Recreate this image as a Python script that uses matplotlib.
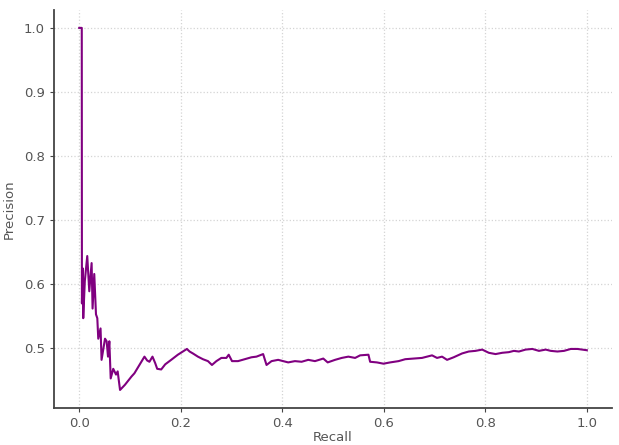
import matplotlib
matplotlib.use("Agg")
import matplotlib.pyplot as plt

# precision / recall pairs along the curve
recall = [
    0.000, 0.005, 0.0053, 0.0066, 0.0079, 0.011, 0.0158, 0.0198, 0.0244,
    0.0263, 0.0296, 0.033, 0.0356, 0.0375, 0.042, 0.044, 0.0508, 0.054,
    0.0567, 0.0593, 0.062, 0.067, 0.0725, 0.0757, 0.0804, 0.090, 0.103,
    0.1087, 0.1186, 0.1285, 0.1338, 0.1383, 0.1443, 0.1496, 0.1536, 0.1615,
    0.1694, 0.1812, 0.1943, 0.2042, 0.2121, 0.2174, 0.2239, 0.2338, 0.2437,
    0.2536, 0.2615, 0.2702, 0.2800, 0.2899, 0.2945, 0.3010, 0.3128, 0.3261,
    0.3393, 0.3492, 0.3623, 0.3690, 0.3789, 0.3919, 0.4117, 0.4249, 0.4381,
    0.4512, 0.4644, 0.4808, 0.4895, 0.5040, 0.5172, 0.5302, 0.5435, 0.5534,
    0.5698, 0.5731, 0.5864, 0.5994, 0.6126, 0.6291, 0.6423, 0.6587, 0.6753,
    0.6951, 0.7049, 0.7148, 0.7247, 0.7377, 0.7543, 0.7674, 0.7806, 0.7939,
    0.8069, 0.8202, 0.8334, 0.8464, 0.8563, 0.8662, 0.8794, 0.8927, 0.9057,
    0.9190, 0.9289, 0.9421, 0.9551, 0.9684, 0.9816, 1.000,
]
precision = [
    1.000, 1.000, 0.570, 0.625, 0.547, 0.605, 0.644, 0.589, 0.633,
    0.562, 0.616, 0.553, 0.547, 0.515, 0.531, 0.482, 0.515, 0.511,
    0.487, 0.511, 0.453, 0.468, 0.459, 0.464, 0.435, 0.443, 0.456,
    0.461, 0.474, 0.487, 0.481, 0.479, 0.487, 0.477, 0.468, 0.467,
    0.475, 0.482, 0.490, 0.495, 0.499, 0.495, 0.492, 0.487, 0.483,
    0.480, 0.474, 0.480, 0.485, 0.485, 0.490, 0.480, 0.480, 0.483,
    0.486, 0.487, 0.491, 0.474, 0.480, 0.482, 0.478, 0.480, 0.479,
    0.482, 0.480, 0.484, 0.478, 0.482, 0.485, 0.487, 0.485, 0.489,
    0.490, 0.479, 0.478, 0.476, 0.478, 0.480, 0.483, 0.484, 0.485,
    0.489, 0.485, 0.487, 0.482, 0.486, 0.492, 0.495, 0.496, 0.498,
    0.493, 0.491, 0.493, 0.494, 0.496, 0.495, 0.498, 0.499, 0.496,
    0.498, 0.496, 0.495, 0.496, 0.499, 0.499, 0.497,
]

fig = plt.figure(figsize=(6.19, 4.45), dpi=100)
ax = fig.add_axes([0.087, 0.083, 0.902, 0.895])
ax.plot(recall, precision, color="#800080", linewidth=1.5)

ax.set_xlabel("Recall", fontsize=9.5, color="#555555", labelpad=1)
ax.set_ylabel("Precision", fontsize=9.5, color="#555555", labelpad=6)
ax.grid(True, linestyle=":", color="#d4d4d4", linewidth=0.9)
for side in ("top", "right"):
    ax.spines[side].set_visible(False)
for side in ("left", "bottom"):
    ax.spines[side].set_color("#444444")
    ax.spines[side].set_linewidth(1.3)
ax.tick_params(colors="#444444", labelcolor="#555555", labelsize=9.5, length=3)

fig.savefig("out.png", dpi=100)
